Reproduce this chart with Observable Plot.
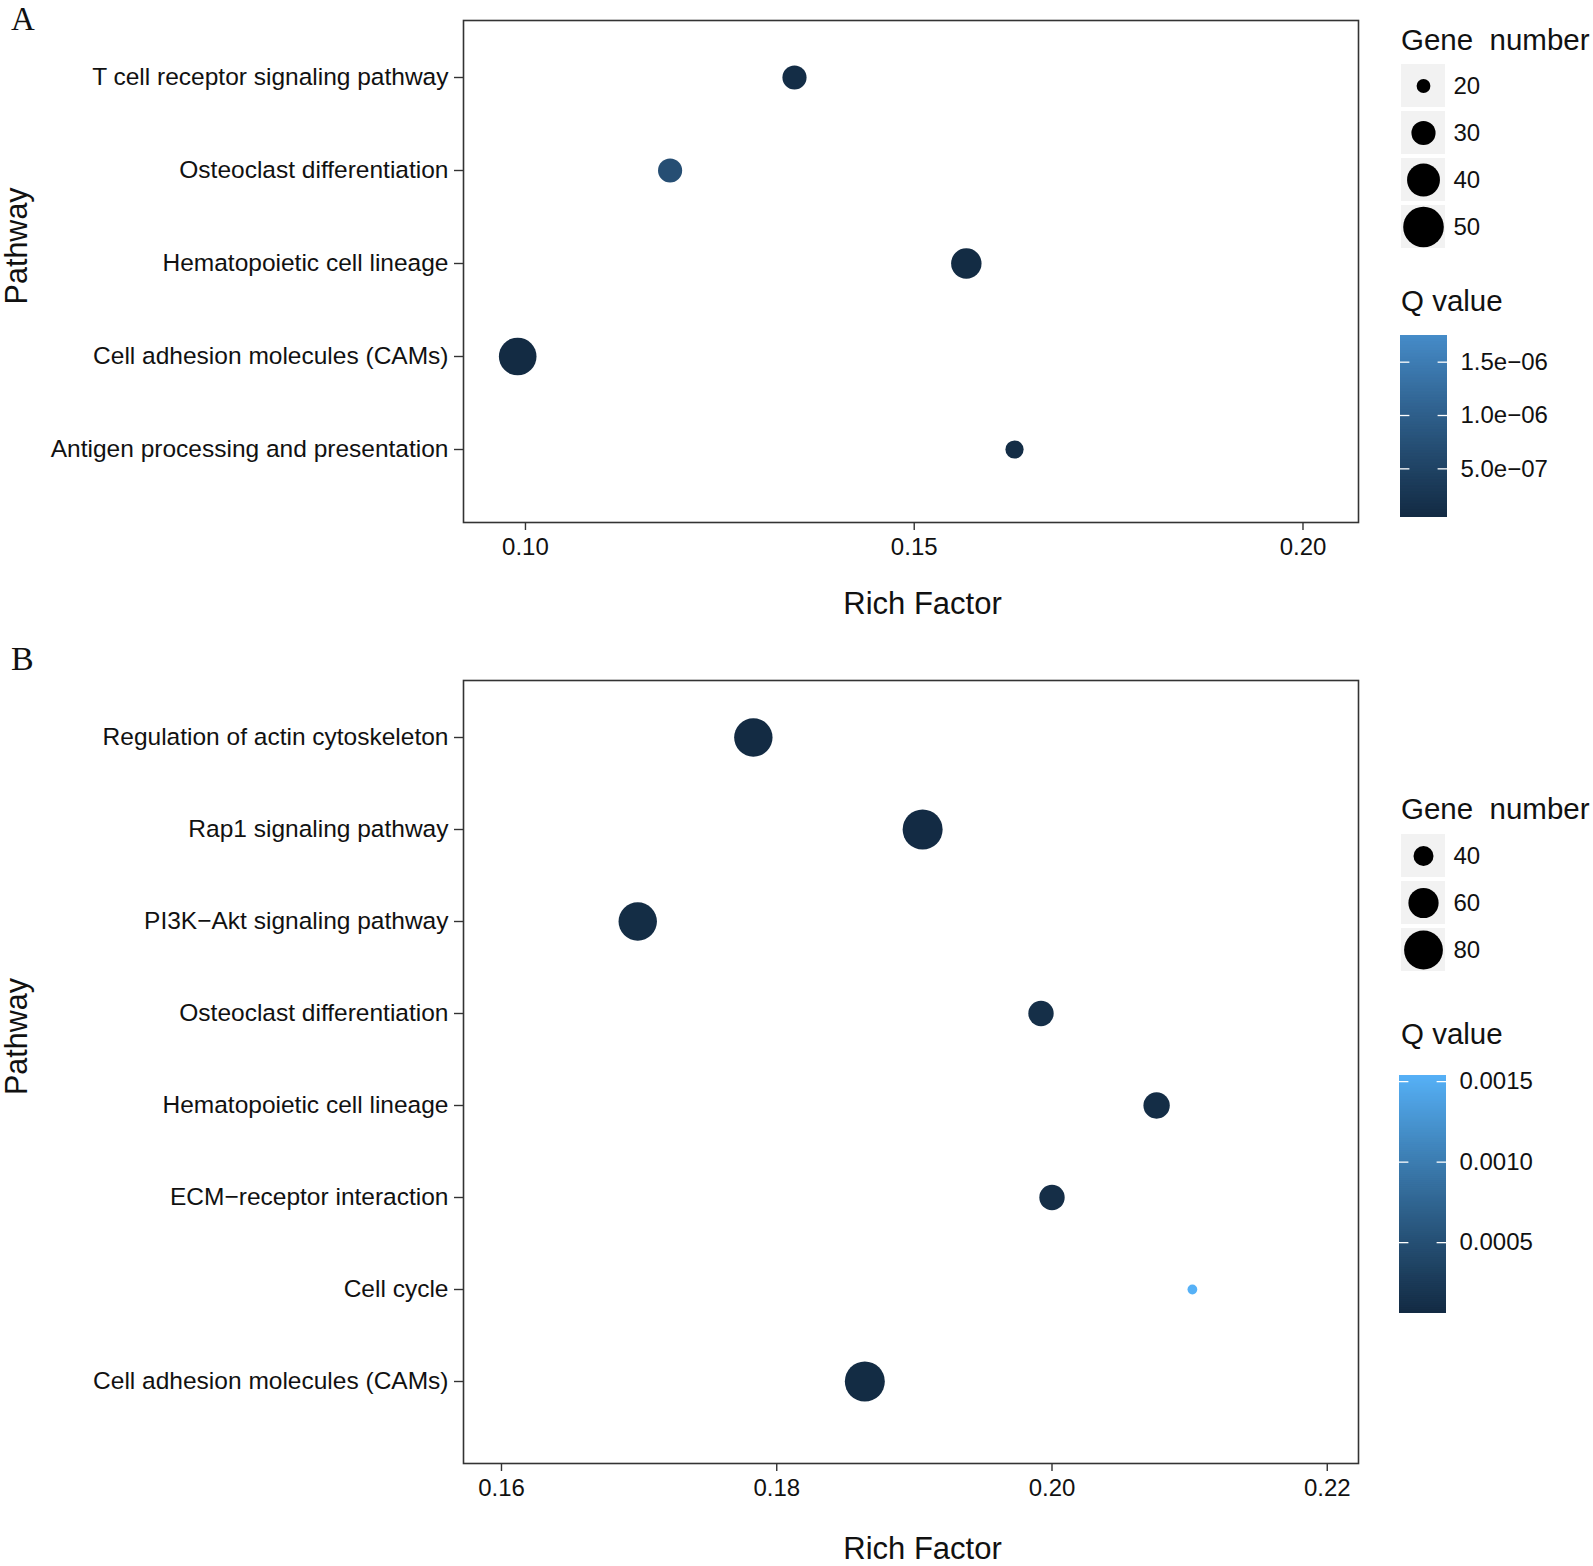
<!DOCTYPE html>
<html><head><meta charset="utf-8">
<script src="https://cdn.jsdelivr.net/npm/d3@7"></script>
<script src="https://cdn.jsdelivr.net/npm/@observablehq/plot@0.6"></script>
<style>
body{margin:0;background:#fff;}
#root{position:relative;width:1593px;height:1566px;overflow:hidden;background:#fff;}
#root > svg{position:absolute;}
</style></head><body><div id="root"></div>
<script>
// ---------- Panel A data ----------
const pathwaysA = ["T cell receptor signaling pathway", "Osteoclast differentiation", "Hematopoietic cell lineage", "Cell adhesion molecules (CAMs)", "Antigen processing and presentation"];
const richFactorA = [0.1346, 0.1186, 0.1567, 0.0990, 0.1629];
const geneNumberA = [30, 30, 37, 46, 24];
const qValueA = [9.0e-8, 7.0e-7, 6.0e-8, 4.4e-8, 8.0e-8];
const qLimitsA = [4.4e-8, 1.75e-6];
const xTicksA = [0.10, 0.15, 0.20];
const sizeBreaksA = [20, 30, 40, 50];
const qTicksA = [5e-7, 1e-6, 1.5e-6];
const qTickLabelsA = ["5.0e\u221207", "1.0e\u221206", "1.5e\u221206"];

// ---------- Panel B data ----------
const pathwaysB = ["Regulation of actin cytoskeleton", "Rap1 signaling pathway", "PI3K\u2212Akt signaling pathway", "Osteoclast differentiation", "Hematopoietic cell lineage", "ECM\u2212receptor interaction", "Cell cycle", "Cell adhesion molecules (CAMs)"];
const richFactorB = [0.1783, 0.1906, 0.1699, 0.1992, 0.2076, 0.2000, 0.2102, 0.1864];
const geneNumberB = [79, 83, 79, 50, 52, 50, 24, 83];
const qValueB = [6.0e-5, 6.5e-5, 8.0e-5, 1.1e-4, 9.0e-5, 1.0e-4, 1.538e-3, 7.0e-5];
const xTicksB = [0.16, 0.18, 0.20, 0.22];
const sizeBreaksB = [40, 60, 80];
const qTicksB = [0.0005, 0.0010, 0.0015];
const qTickLabelsB = ["0.0005", "0.0010", "0.0015"];

// ---------- style ----------
const FONT = '"Liberation Sans", Arial, Helvetica, sans-serif';
const SERIF = '"Liberation Serif", "Times New Roman", serif';
const LOW = "#132B43";
const root = document.getElementById("root");

const rScaleA = {type: "sqrt", domain: [20, 50], range: [6.9, 20.3]};
const rScaleB = {type: "sqrt", domain: [40, 80], range: [10, 19.4]};
const colorA = {type: "linear", domain: qLimitsA, range: [LOW, "#468CC9"], interpolate: "lab"};
const colorB = {type: "linear", domain: d3.extent(qValueB), range: [LOW, "#56B1F7"], interpolate: "lab"};

function place(svg, left, top) {
  svg.style.left = left + "px";
  svg.style.top = top + "px";
  root.appendChild(svg);
}

function panel(cfg) {
  const data = cfg.pathways.map((p, i) => ({pathway: p, rf: cfg.rf[i], n: cfg.n[i], q: cfg.q[i]}));
  return Plot.plot({
    width: 1380, height: cfg.height,
    marginLeft: 463, marginRight: 22, marginTop: cfg.top, marginBottom: cfg.height - cfg.bottom,
    style: {fontFamily: FONT, background: "transparent", overflow: "visible"},
    x: {domain: cfg.xDomain},
    y: {type: "point", domain: cfg.pathways, range: cfg.yRange, padding: 0},
    r: cfg.rScale,
    color: cfg.colorScale,
    marks: [
      Plot.frame({stroke: "#333", strokeWidth: 1.6}),
      Plot.axisX({ticks: cfg.xTicks, tickFormat: d3.format(".2f"), tickSize: 8, tickPadding: 7, fontSize: 24, stroke: "#333", strokeWidth: 1.4, fill: "#111", label: null}),
      Plot.axisY({tickSize: 9, tickPadding: 6, fontSize: 24.5, stroke: "#333", strokeWidth: 1.4, fill: "#111", label: null}),
      Plot.dot(data, {x: "rf", y: "pathway", r: "n", fill: "q"}),
      Plot.text(["Rich Factor"], {text: d => d, frameAnchor: "bottom", textAnchor: "middle", dx: 11.5, dy: cfg.xLabelDy, fontSize: 31, lineAnchor: "middle", fill: "#111"}),
      Plot.text(["Pathway"], {text: d => d, frameAnchor: "left", textAnchor: "middle", dx: 16.5 - 463, dy: cfg.yLabelDy, rotate: -90, fontSize: 30.5, lineAnchor: "middle", fill: "#111"})
    ]
  });
}

function sizeLegend(cfg) {
  const keys = cfg.breaks;
  return Plot.plot({
    width: 203, height: cfg.height, margin: 0,
    style: {fontFamily: FONT, background: "transparent", overflow: "visible"},
    x: {type: "band", domain: ["key"], range: [11, 55], padding: 0, axis: null},
    y: {type: "band", domain: keys, range: cfg.yRange, paddingInner: 0.075, paddingOuter: 0.0375, axis: null},
    r: cfg.rScale,
    marks: [
      Plot.cell(keys, {x: () => "key", y: d => d, fill: "#F2F2F2"}),
      Plot.dot(keys, {x: () => "key", y: d => d, r: d => d, fill: "black"}),
      Plot.text(keys, {x: () => "key", y: d => d, text: d => String(d), dx: 30, textAnchor: "start", fontSize: 24, fill: "#111"})
    ]
  });
}

function colorBar(cfg) {
  const [q0, q1] = cfg.colorScale.domain;
  const n = 120;
  const stripes = d3.range(n).map(i => [q0 + (q1 - q0) * i / n, Math.min(q1, q0 + (q1 - q0) * (i + 1.8) / n)]);
  return Plot.plot({
    width: 203, height: cfg.height,
    marginLeft: cfg.left, marginRight: 203 - cfg.left - cfg.barWidth,
    marginTop: cfg.top, marginBottom: cfg.height - cfg.top - cfg.barHeight,
    style: {fontFamily: FONT, background: "transparent", overflow: "visible"},
    x: {domain: [0, 1], axis: null},
    y: {domain: [q0, q1], axis: null},
    color: cfg.colorScale,
    marks: [
      Plot.rect(stripes, {x1: 0, x2: 1, y1: d => d[0], y2: d => d[1], fill: d => d[0] + (q1 - q0) / (2 * n)}),
      Plot.ruleY(cfg.ticks, {y: d => d, x1: 0, x2: 0.2, stroke: "white", strokeWidth: 1.3}),
      Plot.ruleY(cfg.ticks, {y: d => d, x1: 0.8, x2: 1, stroke: "white", strokeWidth: 1.3}),
      Plot.text(cfg.ticks, {y: d => d, x: 1, text: (d, i) => cfg.labels[i], dx: 13, textAnchor: "start", fontSize: 24, fill: "#111"})
    ]
  });
}

// ---------- Panel A ----------
place(panel({
  pathways: pathwaysA, rf: richFactorA, n: geneNumberA, q: qValueA,
  height: 625, top: 20, bottom: 522,
  xDomain: [0.09203, 0.20714], xTicks: xTicksA,
  yRange: [76, 449],
  rScale: rScaleA, colorScale: colorA,
  xLabelDy: 81.5, yLabelDy: -25.6
}), 0, 0);

place(sizeLegend({breaks: sizeBreaksA, height: 260, yRange: [62, 250], rScale: rScaleA}), 1390, 0);
place(colorBar({colorScale: colorA, ticks: qTicksA, labels: qTickLabelsA, height: 220, left: 10, barWidth: 47, top: 15, barHeight: 182}), 1390, 320);

// ---------- Panel B ----------
place(panel({
  pathways: pathwaysB, rf: richFactorB, n: geneNumberB, q: qValueB,
  height: 926, top: 40, bottom: 823,
  xDomain: [0.15724, 0.22227], xTicks: xTicksB,
  yRange: [95.5, 742.7],
  rScale: rScaleB, colorScale: colorB,
  xLabelDy: 86, yLabelDy: -35.5
}), 0, 640);

place(sizeLegend({breaks: sizeBreaksB, height: 220, yRange: [51.8, 193.5], rScale: rScaleB}), 1390, 780);
place(colorBar({colorScale: colorB, ticks: qTicksB, labels: qTickLabelsB, height: 270, left: 9, barWidth: 47, top: 15, barHeight: 238}), 1390, 1060);

// ---------- titles (real text) ----------
const overlay = d3.create("svg").attr("width", 1593).attr("height", 1566)
  .style("left", "0px").style("top", "0px").style("pointer-events", "none");
const titles = [
  {t: "A", x: 11, y: 29.5, f: SERIF, s: 33},
  {t: "B", x: 11, y: 670, f: SERIF, s: 34},
  {t: "Gene  number", x: 1401, y: 50.2, f: FONT, s: 29.5},
  {t: "Q value", x: 1401, y: 311.3, f: FONT, s: 29.5},
  {t: "Gene  number", x: 1401, y: 819.3, f: FONT, s: 29.5},
  {t: "Q value", x: 1401, y: 1043.8, f: FONT, s: 29.5}
];
overlay.selectAll("text").data(titles).join("text")
  .attr("x", d => d.x).attr("y", d => d.y)
  .attr("font-family", d => d.f).attr("font-size", d => d.s)
  .attr("fill", "#111").style("white-space", "pre")
  .text(d => d.t);
root.appendChild(overlay.node());
</script>
</body></html>
